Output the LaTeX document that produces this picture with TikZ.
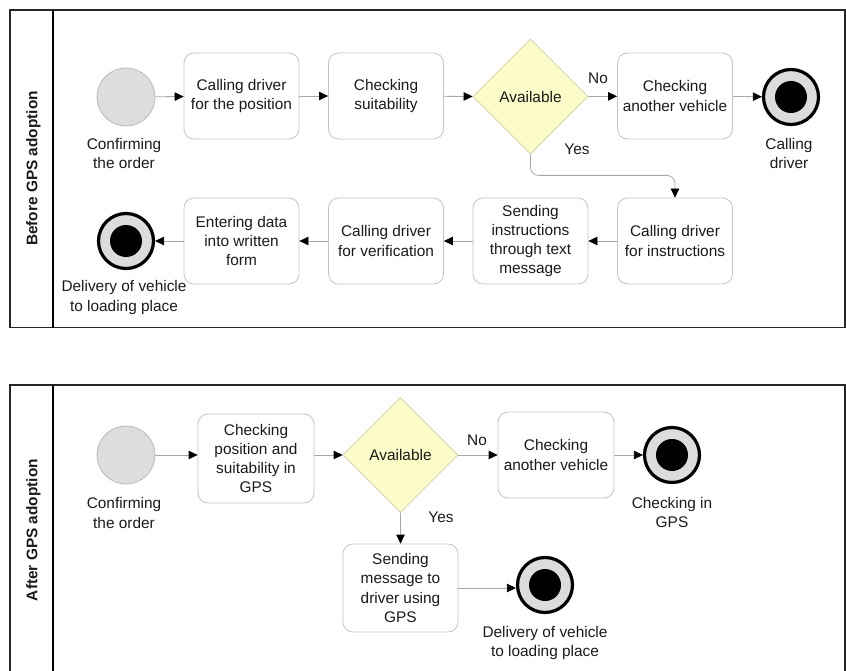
\documentclass[tikz,border=0pt]{standalone}
\usepackage{fontspec}
\setmainfont{Liberation Sans}
\usetikzlibrary{shapes.geometric,arrows.meta,calc}
\definecolor{boxline}{HTML}{C4C4C4}
\definecolor{flowline}{HTML}{A8A8A8}
\definecolor{startfill}{HTML}{DDDDDD}
\definecolor{startline}{HTML}{B4B4B4}
\definecolor{gwfill}{HTML}{FCFCC8}
\definecolor{gwline}{HTML}{CFCFA6}
\definecolor{endfill}{HTML}{DCDCDC}
\definecolor{txt}{HTML}{1A1A1A}
\tikzset{
  every node/.style={font=\fontsize{15.4}{19.3}\selectfont, text=txt},
  task/.style={draw=boxline, line width=0.8pt, fill=white, rounded corners=10pt,
    minimum width=115pt, minimum height=86pt, inner sep=0pt, align=center},
  gateway/.style={diamond, draw=gwline, line width=0.8pt, fill=gwfill,
    minimum width=115pt, minimum height=115pt, inner sep=0pt, align=center},
  startev/.style={circle, draw=startline, line width=0.7pt, fill=startfill,
    minimum size=58pt, inner sep=0pt},
  endev/.style={circle, draw=black, line width=3.2pt, fill=endfill,
    minimum size=55pt, inner sep=0pt,
    path picture={\fill[black] (path picture bounding box.center) circle (16pt);}},
  evlabel/.style={align=center, inner sep=0pt},
  flow/.style={draw=flowline, line width=0.8pt, -{Triangle[length=9pt,width=8.5pt,color=black]}},
  pooltitle/.style={rotate=90, font=\bfseries\fontsize{15.4}{19.3}\selectfont, inner sep=0pt},
  poolframe/.style={draw=black!85, line width=1.1pt},
  lanediv/.style={draw=black, line width=2pt}
}
\begin{document}
\begin{tikzpicture}[x=1pt,y=-1pt]
\useasboundingbox (0,0) rectangle (846,671);

% ---------- top pool ----------
\draw[poolframe] (10,10) rectangle (845,327.5);
\draw[lanediv] (53,10) -- (53,327.5);
\node[pooltitle] (t1) at (33.5,168.5) {Before GPS adoption};

\node[startev] (s1) at (126,97) {};
\node[evlabel] (s1l) at (124,153.5) {Confirming\\the order};
\node[task] (a1) at (241.5,96) {Calling driver\\for the position};
\node[task] (a2) at (386,96) {Checking\\suitability};
\node[gateway] (g1) at (530.5,96.5) {Available};
\node[task] (a3) at (675,96) {Checking\\another vehicle};
\node[endev] (e1) at (791,97) {};
\node[evlabel] (e1l) at (789,153.5) {Calling\\driver};
\node[inner sep=0pt] (no1) at (598,78) {No};
\node[inner sep=0pt] (yes1) at (577,149.5) {Yes};

\node[task] (a4) at (675,241) {Calling driver\\for instructions};
\node[task] (a5) at (530.5,241) {Sending\\instructions\\through text\\message};
\node[task] (a6) at (386,241) {Calling driver\\for verification};
\node[task] (a7) at (241.5,241) {Entering data\\into written\\form};
\node[endev] (e2) at (126,241) {};
\node[evlabel] (e2l) at (124,297.5) {Delivery of vehicle\\to loading place};

\draw[flow] (s1) -- (a1);
\draw[flow] (a1) -- (a2);
\draw[flow] (a2) -- (g1.west);
\draw[flow] (g1.east) -- (a3);
\draw[flow] (a3) -- (e1);
\draw[flow, rounded corners=8pt] (g1.south) -- ++(0,21) -| (a4.north);
\draw[flow] (a4) -- (a5);
\draw[flow] (a5) -- (a6);
\draw[flow] (a6) -- (a7);
\draw[flow] (a7) -- (e2);

% ---------- bottom pool ----------
\draw[poolframe] (10,720) -- (10,385) -- (845,385) -- (845,720);
\draw[lanediv] (53,385) -- (53,720);
\node[pooltitle] (t2) at (33.5,530) {After GPS adoption};

\node[startev] (s2) at (126,455) {};
\node[evlabel] (s2l) at (124,513) {Confirming\\the order};
\node[task, minimum width=116pt, minimum height=89pt] (b1) at (256,458.5) {Checking\\position and\\suitability in\\GPS};
\node[gateway] (g2) at (400.5,455) {Available};
\node[task, minimum width=116pt] (b2) at (556,455) {Checking\\another vehicle};
\node[endev] (e3) at (672,455) {};
\node[evlabel] (e3l) at (672,512.5) {Checking in\\GPS};
\node[inner sep=0pt] (no2) at (477,440) {No};
\node[inner sep=0pt] (yes2) at (441,517) {Yes};

\node[task, minimum height=88pt] (b3) at (400.5,588) {Sending\\message to\\driver using\\GPS};
\node[endev] (e4) at (545,585) {};
\node[evlabel] (e4l) at (545,643) {Delivery of vehicle\\to loading place};

\draw[flow] (s2) -- (s2 -| b1.west);
\draw[flow] (b1.east |- g2) -- (g2.west);
\draw[flow] (g2.east) -- (b2);
\draw[flow] (b2) -- (e3);
\draw[flow] (g2.south) -- (b3.north);
\draw[flow] (b3.east) -- (b3.east -| e4.west);
\end{tikzpicture}
\end{document}
